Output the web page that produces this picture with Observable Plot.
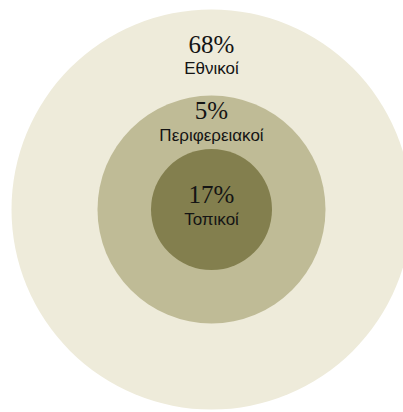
<!DOCTYPE html>
<html>
<head>
<meta charset="utf-8">
<script src="https://cdn.jsdelivr.net/npm/d3@7"></script>
<script src="https://cdn.jsdelivr.net/npm/@observablehq/plot@0.6"></script>
<style>
  html, body { margin: 0; padding: 0; background: #fff; }
  #chart svg { display: block; }
</style>
</head>
<body>
<div id="chart"></div>
<script>
// Data
const categories = ["Εθνικοί", "Περιφερειακοί", "Τοπικοί"];
const shares = [68, 5, 17];

const data = categories.map((c, i) => ({ category: c, share: shares[i] }));

// Layout / style (not data)
const radius = { "Εθνικοί": 200, "Περιφερειακοί": 114, "Τοπικοί": 60.5 };
const fills = { "Εθνικοί": "#eeebda", "Περιφερειακοί": "#bfbb96", "Τοπικοί": "#837f4e" };
const valueDy = { "Εθνικοί": -165, "Περιφερειακοί": -99, "Τοπικοί": -15 };
const labelDy = { "Εθνικοί": -141, "Περιφερειακοί": -74, "Τοπικοί": 10 };

const textMarks = data.flatMap(d => [
  Plot.text([d], {
    frameAnchor: "middle",
    text: r => `${r.share}%`,
    dy: valueDy[d.category],
    fontFamily: "Liberation Serif, serif",
    fontSize: 25,
    fill: "#141414",
    textAnchor: "middle",
    lineAnchor: "middle"
  }),
  Plot.text([d], {
    frameAnchor: "middle",
    text: "category",
    dy: labelDy[d.category],
    fontFamily: "Liberation Sans, Arial, sans-serif",
    fontSize: 17,
    fill: "#141414",
    textAnchor: "middle",
    lineAnchor: "middle"
  })
]);

const chart = Plot.plot({
  width: 403,
  height: 412,
  marginLeft: 19,
  marginRight: 0,
  marginTop: 6,
  marginBottom: 0,
  style: { background: "#fff", overflow: "hidden" },
  r: { type: "identity" },
  color: { type: "identity" },
  marks: [
    Plot.dot(data, {
      frameAnchor: "middle",
      r: d => radius[d.category],
      fill: d => fills[d.category],
      stroke: "none"
    }),
    ...textMarks
  ]
});
document.getElementById("chart").appendChild(chart);
</script>
</body>
</html>
